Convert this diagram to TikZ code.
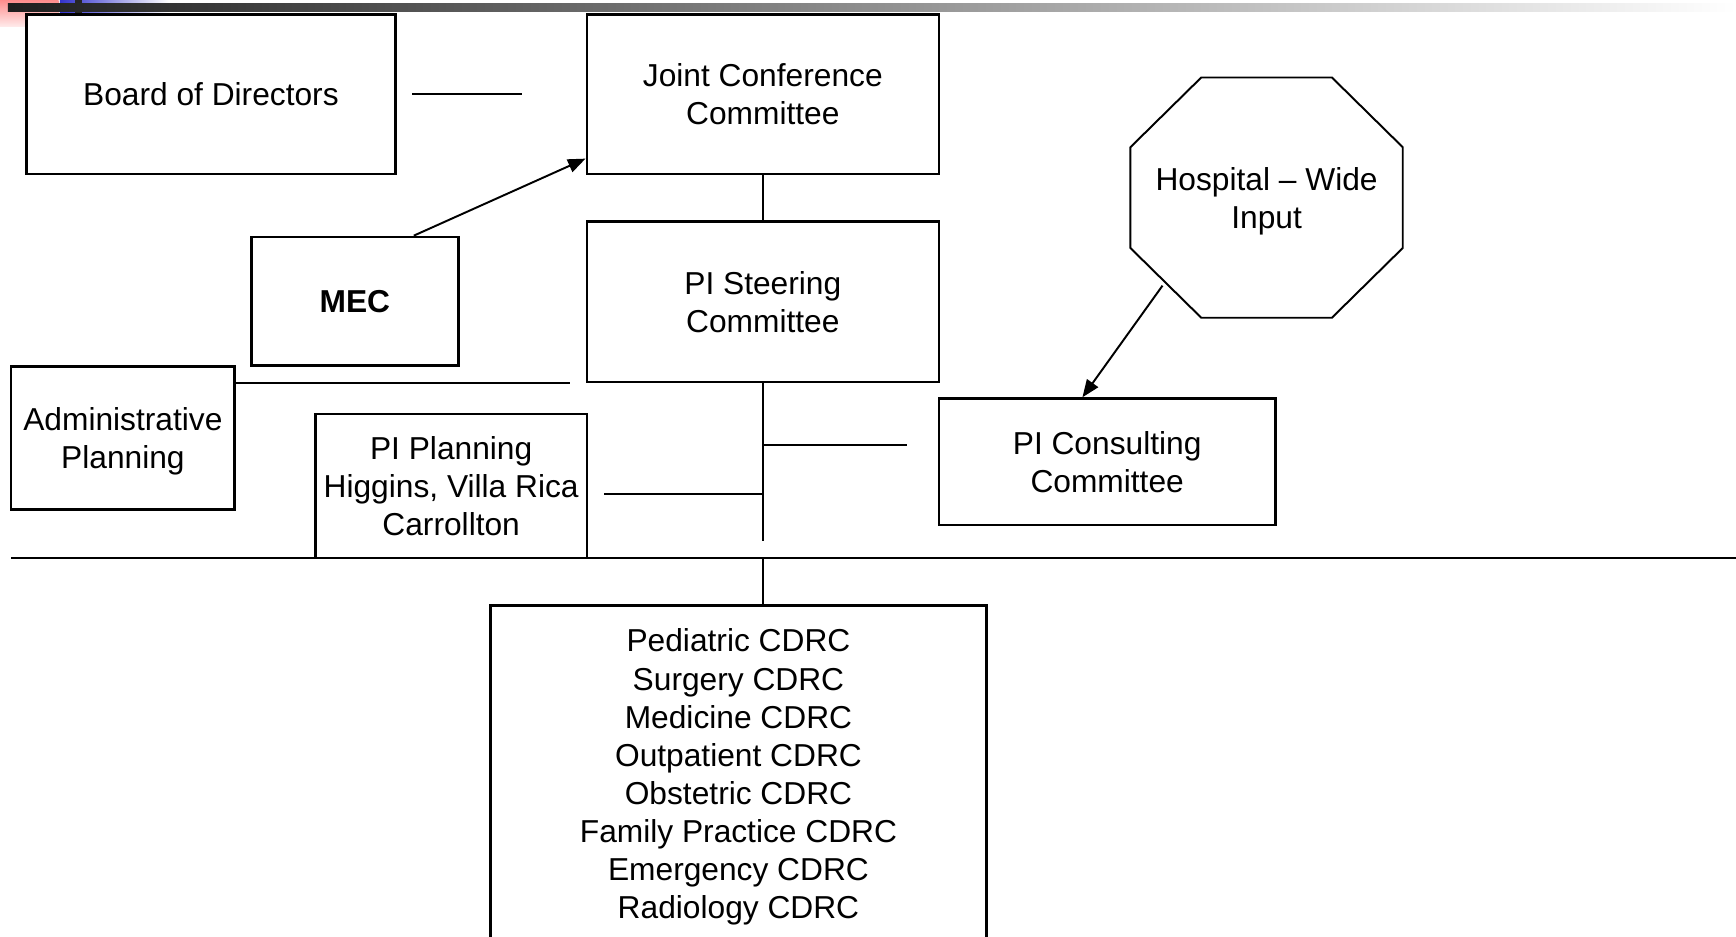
\documentclass[tikz,border=0pt]{standalone}
\usepackage{fontspec}
\setmainfont{Liberation Sans}
\usepackage{tikz}
\usetikzlibrary{shapes,arrows.meta,calc}
\definecolor{tmplblue}{RGB}{51,51,204}

\begin{document}
\begin{tikzpicture}[auto, line width=1pt, >={Triangle[length=9pt,width=7pt]},
    font=\fontsize{16.3}{19.6}\selectfont,
    orgbox/.style={draw, fill=white, line width=1.3pt, align=center, inner sep=0pt, text depth=0pt}]

\useasboundingbox (0,0) rectangle (31.36,16.92);
\clip (0,0) rectangle (31.36,16.92);

%template strip
\shade[top color=red!45, bottom color=red!8] (0,16.44) rectangle (1.06,16.92);
\shade[left color=tmplblue, right color=white] (1.08,16.66) rectangle (3.04,16.92);
\fill[black!85] (1.36,16.66) rectangle (1.48,16.92);
\shade[left color=black!88, right color=white] (0.14,16.72) rectangle (31.36,16.85);

\draw
    node at(3.81,15.22)[orgbox,minimum width=6.66cm,minimum height=2.88cm,name=board]{Board of Directors}

    node at(13.78,15.22)[orgbox,minimum width=6.36cm,minimum height=2.88cm,name=jcc]{Joint Conference\\Committee}
    node at(13.78,11.47)[orgbox,minimum width=6.36cm,minimum height=2.9cm,name=steer]{PI Steering\\Committee}

    node at(6.41,11.48)[orgbox,minimum width=3.74cm,minimum height=2.32cm,name=mec]{\textbf{MEC}}
    node at(2.22,9.01)[orgbox,minimum width=4.04cm,minimum height=2.58cm,name=admin]{Administrative\\Planning}
    node at(8.15,8.14)[orgbox,minimum width=4.9cm,minimum height=2.6cm,name=plan]{PI Planning\\Higgins, Villa Rica\\Carrollton}

    node at(20.0,8.58)[orgbox,minimum width=6.08cm,minimum height=2.28cm,name=consult]{PI Consulting\\Committee}
    node at(22.88,13.35)[align=center,inner sep=0pt,text depth=0pt,minimum width=4.92cm,minimum height=4.34cm,name=hosp]{Hospital – Wide\\Input}

    node at(13.34,2.94)[orgbox,minimum width=8.96cm,minimum height=6.08cm,name=cdrc]{Pediatric CDRC\\Surgery CDRC\\Medicine CDRC\\Outpatient CDRC\\Obstetric CDRC\\Family Practice CDRC\\Emergency CDRC\\Radiology CDRC}
;
    \draw[shift={(hosp.center)}] (-1.18,2.17) -- (1.18,2.17) -- (2.46,0.91) -- (2.46,-0.91)
        -- (1.18,-2.17) -- (-1.18,-2.17) -- (-2.46,-0.91) -- (-2.46,0.91) -- cycle;

    \coordinate (trunk) at (13.78,7.14);
    \coordinate (teeR) at (13.78,8.88);
    \coordinate (teeL) at (13.78,8.0);
    \coordinate (baseL) at (0.2,6.84);
    \coordinate (baseR) at (31.36,6.84);
    \coordinate (hospout) at ($(hosp.center)+(-1.88,-1.59)$);

    \draw[shorten <=0.28cm, shorten >=1.14cm](board) -- (jcc);
    \draw(jcc) -- (steer);
    \draw[->](mec.48) -- (jcc.200);
    \draw(admin.east |- steer.south) -- ([xshift=-0.28cm]steer.south west);

    \draw(steer) -- (trunk);
    \draw[shorten >=0.56cm](teeR) -- (consult.west |- teeR);
    \draw[shorten >=0.28cm](teeL) -- (plan.east |- teeL);
    \draw[->](hospout) -- (consult.111);

    \draw(baseL) -- (baseR);
    \draw(trunk |- baseL) -- (trunk |- cdrc.north);

\end{tikzpicture}
\end{document}
